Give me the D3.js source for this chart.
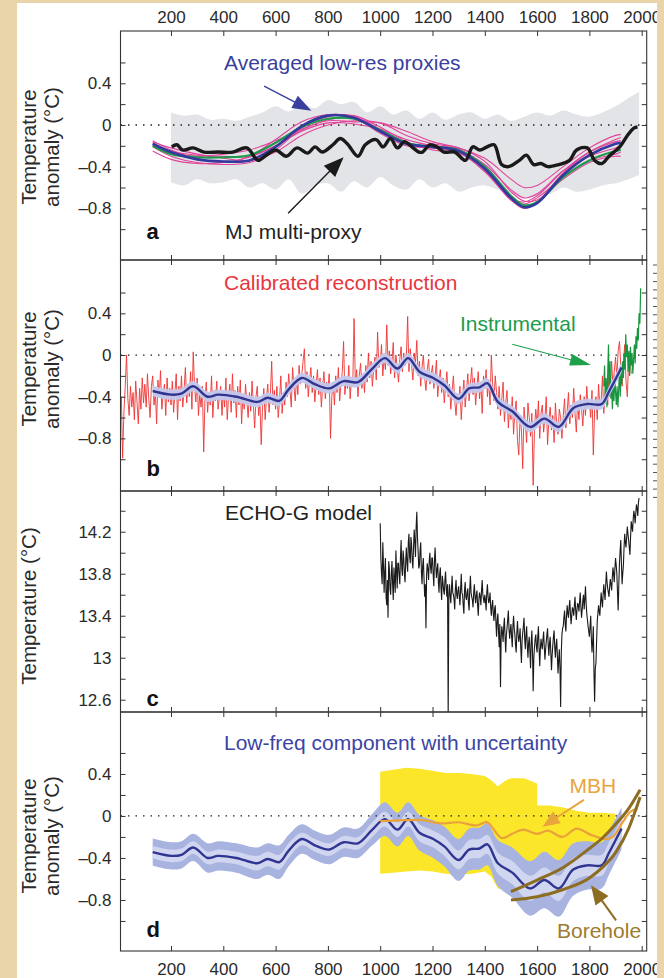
<!DOCTYPE html>
<html>
<head>
<meta charset="utf-8">
<script src="https://d3js.org/d3.v7.min.js"></script>
<style>
  body { margin: 0; background: #e9d5a9; }
  svg { display: block; font-family: "Liberation Sans", Arial, Helvetica, sans-serif; }
</style>
</head>
<body>
<script>
var width = 664,
    height = 978;

// ---- data ----
var xTicks = [200, 400, 600, 800, 1000, 1200, 1400, 1600, 1800, 2000];
var anomTicks = [-1, -0.8, -0.6, -0.4, -0.2, 0, 0.2, 0.4, 0.6];
var anomLabels = [0.4, 0, -0.4, -0.8];
var tempTicks = [12.6, 12.8, 13, 13.2, 13.4, 13.6, 13.8, 14, 14.2, 14.4];
var tempLabels = [14.2, 13.8, 13.4, 13, 12.6];

// panel a: low-res proxies (smoothed)
var proxyYears = [130, 200, 300, 400, 500, 600, 700, 800, 900, 1000, 1100, 1200, 1300, 1400, 1500, 1550, 1600, 1700, 1800, 1900, 1920];
var proxyBlue  = [-0.18, -0.26, -0.33, -0.35, -0.34, -0.21, -0.01, 0.09, 0.07, -0.06, -0.18, -0.21, -0.25, -0.42, -0.70, -0.79, -0.75, -0.48, -0.29, -0.18, -0.17];
var proxyGreen = [-0.20, -0.28, -0.31, -0.31, -0.29, -0.17, -0.02, 0.06, 0.06, -0.05, -0.17, -0.21, -0.24, -0.40, -0.68, -0.77, -0.74, -0.50, -0.34, -0.25, -0.24];
var proxyPink = [
  [-0.15, -0.24, -0.32, -0.36, -0.30, -0.14, 0.03, 0.10, 0.08, -0.04, -0.17, -0.22, -0.26, -0.45, -0.72, -0.80, -0.74, -0.46, -0.26, -0.14, -0.12],
  [-0.25, -0.33, -0.37, -0.36, -0.31, -0.20, -0.05, 0.05, 0.06, -0.08, -0.20, -0.22, -0.24, -0.38, -0.62, -0.70, -0.66, -0.44, -0.30, -0.22, -0.20],
  [-0.19, -0.27, -0.30, -0.28, -0.24, -0.15, -0.04, 0.04, 0.03, 0.02, -0.06, -0.16, -0.22, -0.32, -0.52, -0.60, -0.58, -0.40, -0.22, -0.10, -0.09],
  [-0.17, -0.25, -0.29, -0.30, -0.30, -0.20, -0.06, 0.02, 0.01, -0.04, -0.14, -0.20, -0.23, -0.42, -0.72, -0.76, -0.70, -0.50, -0.34, -0.28, -0.26],
  [-0.21, -0.30, -0.36, -0.38, -0.36, -0.24, -0.03, 0.08, 0.09, -0.02, -0.16, -0.24, -0.27, -0.44, -0.70, -0.74, -0.68, -0.44, -0.26, -0.16, -0.15],
  [-0.16, -0.22, -0.28, -0.32, -0.34, -0.26, -0.10, 0.00, 0.04, 0.02, -0.10, -0.18, -0.22, -0.35, -0.64, -0.73, -0.72, -0.52, -0.36, -0.30, -0.30]
];
// panel a: grey envelope
var envYears = [200, 250, 300, 350, 400, 450, 500, 550, 600, 650, 700, 750, 800, 850, 900, 950, 1000, 1050, 1100, 1150,
                1200, 1250, 1300, 1350, 1400, 1450, 1500, 1550, 1600, 1650, 1700, 1750, 1800, 1850, 1900, 1950, 1990];
var envUpper = [0.12, 0.09, 0.10, 0.05, 0.06, 0.04, 0.08, 0.12, 0.18, 0.13, 0.20, 0.16, 0.24, 0.20, 0.22, 0.12, 0.18, 0.10, 0.14, 0.06,
                0.12, 0.05, 0.10, 0.12, 0.06, 0.10, 0.04, 0.08, 0.12, 0.09, 0.14, 0.10, 0.08, 0.12, 0.18, 0.26, 0.32];
var envLower = [-0.55, -0.58, -0.52, -0.56, -0.55, -0.52, -0.60, -0.56, -0.62, -0.52, -0.66, -0.58, -0.56, -0.64, -0.54, -0.60, -0.50, -0.58, -0.62, -0.52,
                -0.60, -0.56, -0.64, -0.60, -0.58, -0.62, -0.66, -0.70, -0.68, -0.66, -0.60, -0.64, -0.62, -0.58, -0.56, -0.52, -0.48];
// panel a: MJ multi-proxy
var mjYears = [203, 223, 244, 285, 326, 381, 436, 490, 532, 559, 600, 641, 682, 723, 751, 778, 819, 847, 874, 915,
               943, 984, 1011, 1039, 1066, 1093, 1121, 1148, 1162, 1189, 1217, 1244, 1285, 1326, 1354, 1381, 1409, 1436, 1464, 1491,
               1532, 1559, 1587, 1614, 1641, 1683, 1724, 1751, 1792, 1820, 1847, 1875, 1916, 1943, 1970, 1984];
var mjVals = [-0.21, -0.19, -0.24, -0.22, -0.26, -0.26, -0.26, -0.22, -0.34, -0.30, -0.24, -0.30, -0.22, -0.27, -0.21, -0.26, -0.19, -0.13, -0.18, -0.30,
              -0.19, -0.14, -0.21, -0.13, -0.22, -0.16, -0.21, -0.26, -0.26, -0.19, -0.21, -0.26, -0.26, -0.34, -0.21, -0.24, -0.21, -0.19, -0.38, -0.40,
              -0.34, -0.29, -0.38, -0.37, -0.40, -0.38, -0.34, -0.24, -0.22, -0.34, -0.37, -0.30, -0.21, -0.11, -0.03, -0.02];

// panel b: calibrated reconstruction, every 5 years from year 0
var calibStart = 0, calibStep = 5;
var calibVals = [
  -0.45, -0.62, -0.40, -0.99, -0.55, -0.30, 0.00, -0.42, -0.58, -0.30, -0.50, -0.36, -0.62, -0.25, -0.45, -0.66, -0.32, -0.52, -0.22, -0.46,
  -0.28, -0.50, -0.18, -0.42, -0.60, -0.30, -0.20, -0.48, -0.35, -0.66, -0.24, -0.40, -0.15, -0.52, -0.38, -0.28, -0.58, -0.22, -0.45, -0.32,
  -0.48, -0.25, -0.55, -0.36, -0.18, -0.62, -0.30, -0.44, -0.20, -0.50, -0.34, -0.12, -0.46, -0.28, -0.40, -0.16, -0.52, 0.03, -0.30, -0.45,
  -0.22, -0.58, -0.38, -0.50, -0.30, -0.93, -0.42, -0.26, -0.55, -0.36, -0.48, -0.20, -0.60, -0.34, -0.44, -0.25, -0.52, -0.40, -0.30, -0.58,
  -0.35, -0.50, -0.22, -0.62, -0.40, -0.28, -0.55, -0.18, -0.46, -0.34, -0.60, -0.30, -0.48, -0.24, -0.66, -0.38, -0.52, -0.28, -0.44, -0.60,
  -0.36, -0.54, -0.25, -0.48, -0.70, -0.40, -0.30, -0.58, -0.45, -0.86, -0.50, -0.32, -0.62, -0.42, -0.28, -0.55, -0.38, -0.06, -0.48, -0.34,
  -0.52, -0.30, -0.60, -0.44, -0.20, -0.56, -0.36, -0.48, -0.26, -0.40, -0.18, -0.34, -0.50, -0.12, -0.30, -0.44, -0.22, -0.38, -0.10, -0.28,
  -0.20, -0.06, 0.06, -0.32, -0.16, -0.40, -0.24, -0.12, -0.36, -0.20, -0.45, -0.28, -0.14, -0.38, -0.22, -0.50, -0.30, -0.16, -0.42, -0.26,
  -0.34, -0.18, -0.80, -0.40, -0.26, -0.48, -0.20, -0.36, -0.12, -0.44, -0.28, -0.16, 0.13, -0.38, -0.22, -0.32, -0.10, -0.42, -0.24, -0.30,
  0.35, -0.28, -0.14, -0.40, -0.20, -0.08, -0.32, -0.18, -0.36, -0.10, -0.26, 0.02, -0.22, -0.06, -0.30, -0.14, -0.02, -0.24, 0.22, -0.12,
  -0.08, 0.10, -0.20, -0.02, -0.14, 0.29, -0.10, 0.04, -0.18, -0.06, 0.12, -0.22, 0.00, -0.12, -0.26, -0.04, 0.08, -0.16, 0.02, -0.10,
  -0.02, 0.37, -0.16, 0.06, -0.10, -0.24, 0.02, -0.08, 0.14, -0.20, -0.06, -0.30, -0.12, 0.00, -0.22, -0.34, -0.14, -0.04, -0.28, -0.18,
  -0.10, -0.32, -0.20, -0.05, -0.40, -0.24, -0.14, -0.36, -0.22, -0.46, -0.30, -0.16, -0.40, -0.28, -0.52, -0.34, -0.20, -0.44, -0.58, -0.38,
  -0.46, -0.30, -0.62, -0.40, -0.24, -0.50, -0.34, -0.18, -0.44, -0.28, -0.12, -0.38, -0.22, -0.48, -0.30, -0.16, -0.42, -0.26, -0.56, -0.20,
  -0.32, -0.14, -0.40, -0.24, -0.48, 0.00, -0.28, -0.44, -0.20, -0.36, -0.52, -0.30, -0.58, -0.42, -0.26, -0.64, -0.46, -0.34, -0.70, -0.50,
  -0.62, -0.40, -0.76, -0.54, -0.44, -0.82, -0.96, -0.58, -0.72, -1.09, -0.50, -0.66, -0.84, -0.46, -0.60, -0.78, -0.56, -1.25, -0.70, -0.52,
  -0.68, -0.44, -0.80, -0.56, -0.48, -0.74, -0.60, -0.40, -0.86, -0.62, -0.50, -0.72, -0.58, -0.84, -0.46, -0.66, -0.76, -0.52, -0.60, -0.80,
  -0.58, -0.42, -0.70, -0.54, -0.36, -0.66, -0.48, -0.60, -0.32, -0.56, -0.74, -0.44, -0.62, -0.38, -0.52, -0.68, -0.40, -0.58, -0.30, -0.50,
  -0.46, -0.60, -0.34, -0.96, -0.52, -0.40, -0.62, -0.28, -0.50, -0.44, -0.20, -0.56, -0.36, -0.26, -0.48, -0.14, -0.38, -0.06, -0.30, -0.16,
  -0.02, -0.22, 0.04, 0.13, -0.10, -0.30, -0.08, 0.10, -0.25, -0.40, -0.05, 0.02, -0.18
];
var calibErr = 0.05;
// panel b: instrumental, every 3 years from 1855
var instStart = 1855, instStep = 3;
var instVals = [
  -0.30, -0.10, -0.45, -0.22, -0.50, -0.18, 0.10, -0.40, -0.06, -0.42,
  -0.30, -0.52, -0.28, -0.44, -0.20, -0.36, -0.48, -0.30, -0.50, -0.34,
  -0.12, -0.40, -0.16, -0.28, -0.06, -0.22, 0.02, -0.14, 0.20, -0.02,
  0.10, -0.16, 0.04, -0.20, 0.08, -0.10, 0.02, -0.18, -0.04, 0.10,
  -0.08, 0.18, 0.06, 0.26, 0.14, 0.40, 0.30, 0.64
];
// panels b and d: low-frequency component
var lowYears = [130, 200, 240, 285, 340, 380, 450, 530, 570, 614, 650, 700, 750, 805, 860, 915, 970, 1018, 1066, 1107,
                1150, 1203, 1245, 1300, 1340, 1380, 1410, 1450, 1505, 1573, 1628, 1683, 1738, 1792, 1847, 1875, 1923];
var lowVals = [-0.345, -0.38, -0.37, -0.30, -0.40, -0.38, -0.40, -0.45, -0.41, -0.44, -0.33, -0.22, -0.28, -0.32, -0.25, -0.26, -0.13, -0.03, -0.13, -0.03,
               -0.16, -0.22, -0.29, -0.42, -0.32, -0.31, -0.27, -0.45, -0.54, -0.69, -0.61, -0.69, -0.51, -0.47, -0.47, -0.35, -0.12];
var lowOuter = [0.13, 0.13, 0.13, 0.13, 0.14, 0.14, 0.14, 0.15, 0.15, 0.16, 0.15, 0.14, 0.14, 0.14, 0.14, 0.14, 0.15, 0.16, 0.16, 0.16,
                0.17, 0.18, 0.19, 0.20, 0.20, 0.20, 0.20, 0.22, 0.24, 0.26, 0.27, 0.27, 0.25, 0.23, 0.22, 0.21, 0.20];
var lowInner = [0.06, 0.06, 0.06, 0.06, 0.06, 0.06, 0.06, 0.07, 0.07, 0.07, 0.07, 0.06, 0.06, 0.06, 0.06, 0.06, 0.07, 0.07, 0.07, 0.07,
                0.08, 0.08, 0.09, 0.09, 0.09, 0.09, 0.09, 0.10, 0.11, 0.12, 0.12, 0.12, 0.11, 0.10, 0.10, 0.10, 0.09];

// panel c: ECHO-G model, every 5 years from 1000 and the in-between years from 1002.5
var echoStart = 1000, echoMidStart = 1002.5, echoStep = 5;
var echoVals = [
  14.28, 13.80, 14.10, 13.62, 13.95, 13.50, 13.38, 13.85, 13.60, 13.92, 13.55, 13.75, 14.02, 13.66, 13.90, 13.70, 14.12, 13.78, 13.95, 13.72,
  14.05, 13.82, 14.18, 13.90, 14.08, 13.85, 14.22, 13.96, 14.39, 14.02, 13.88, 14.10, 13.70, 13.95, 13.58, 13.28, 13.90, 13.74, 14.00, 13.80,
  13.95, 13.68, 14.05, 13.76, 13.90, 13.62, 13.86, 13.55, 13.72, 13.60, 13.82, 13.58, 12.45, 13.70, 13.52, 13.78, 13.60, 13.46, 13.74, 13.56,
  13.68, 13.50, 13.80, 13.60, 13.42, 13.72, 13.55, 13.66, 13.45, 13.78, 13.58, 13.48, 13.70, 13.52, 13.64, 13.40, 13.62, 13.50, 13.74, 13.56,
  13.60, 13.45, 13.70, 13.52, 13.62, 13.40, 13.55, 13.35, 13.50, 13.20, 13.42, 13.10, 12.72, 13.30, 13.15, 13.38, 13.05, 13.28, 13.45, 13.18,
  13.32, 13.10, 13.40, 13.22, 13.05, 13.35, 13.15, 13.28, 12.95, 13.24, 13.38, 13.08, 13.30, 13.00, 13.20, 12.90, 13.26, 12.68, 13.10, 13.22,
  13.05, 13.30, 12.92, 13.18, 13.08, 13.25, 12.98, 13.15, 13.28, 13.02, 13.20, 12.88, 13.12, 13.26, 13.00, 13.18, 12.85, 13.08, 12.53, 13.22,
  13.30, 13.45, 13.25, 13.50, 13.38, 13.55, 13.32, 13.48, 13.40, 13.58, 13.36, 13.52, 13.44, 13.62, 13.38, 13.55, 13.46, 13.68, 13.42, 13.30,
  13.20, 13.40, 13.05, 13.30, 12.58, 12.95, 13.35, 13.50, 13.40, 13.62, 13.48, 13.70, 13.55, 13.82, 13.66, 13.58, 13.75, 13.64, 13.86, 13.72,
  13.95, 13.80, 13.45, 13.90, 14.12, 13.70, 13.88, 14.18, 14.05, 14.25, 14.12, 13.98, 14.30, 14.20, 14.40, 14.28, 14.46, 14.35, 14.52
];
var echoMidVals = [
  13.95, 13.70, 13.88, 13.82, 13.58, 13.74, 13.92, 13.66, 13.80, 13.70, 13.86, 13.62, 13.84, 13.90, 13.78, 13.96, 13.85, 14.02, 13.80, 13.92,
  13.90, 14.10, 13.96, 14.15, 13.92, 14.05, 14.10, 14.25, 14.15, 13.85, 14.02, 13.82, 13.88, 13.76, 13.70, 13.80, 13.84, 13.92, 13.86, 13.95,
  13.80, 13.92, 13.88, 13.84, 13.72, 13.80, 13.66, 13.78, 13.64, 13.74, 13.66, 13.70, 13.60, 13.58, 13.66, 13.62, 13.55, 13.66, 13.60, 13.64,
  13.58, 13.66, 13.62, 13.50, 13.64, 13.58, 13.62, 13.52, 13.66, 13.62, 13.55, 13.62, 13.58, 13.60, 13.50, 13.56, 13.58, 13.64, 13.60, 13.52,
  13.55, 13.62, 13.58, 13.55, 13.48, 13.50, 13.42, 13.46, 13.34, 13.36, 13.25, 13.32, 13.18, 13.24, 13.30, 13.20, 13.22, 13.36, 13.28, 13.26,
  13.20, 13.30, 13.28, 13.12, 13.24, 13.22, 13.20, 13.10, 13.16, 13.30, 13.18, 13.22, 13.12, 13.14, 13.06, 13.15, 13.05, 13.00, 13.18, 13.10,
  13.20, 13.10, 13.08, 13.12, 13.18, 13.10, 13.08, 13.22, 13.12, 13.14, 13.05, 13.02, 13.20, 13.10, 13.12, 13.02, 12.98, 12.90, 13.05, 13.28,
  13.38, 13.32, 13.40, 13.42, 13.48, 13.42, 13.40, 13.46, 13.50, 13.45, 13.46, 13.50, 13.54, 13.48, 13.46, 13.60, 13.56, 13.52, 13.36, 13.25,
  13.30, 13.18, 13.16, 12.85, 12.90, 13.15, 13.42, 13.44, 13.52, 13.54, 13.60, 13.62, 13.70, 13.72, 13.62, 13.68, 13.70, 13.76, 13.80, 13.85,
  13.88, 13.62, 13.70, 14.02, 13.90, 13.80, 14.05, 14.10, 14.15, 14.18, 14.05, 14.15, 14.25, 14.32, 14.35, 14.38, 14.42, 14.48
];

// panel d: MBH with its uncertainty, and boreholes
var mbhYears = [1000, 1093, 1162, 1230, 1299, 1368, 1409, 1464, 1505, 1546, 1601, 1642, 1697, 1751, 1806, 1861, 1889, 1930, 1957, 1984];
var mbhVals = [-0.05, -0.04, -0.04, -0.07, -0.06, -0.09, -0.06, -0.21, -0.17, -0.13, -0.17, -0.14, -0.20, -0.12, -0.18, -0.22, -0.20, -0.05, 0.04, 0.07];
var mbhErrYears = [1000, 1050, 1100, 1150, 1200, 1250, 1300, 1350, 1400, 1425, 1450, 1475, 1500, 1550, 1600, 1600, 1650, 1700, 1750, 1800, 1850, 1898];
var mbhErrUpper = [0.42, 0.44, 0.46, 0.45, 0.43, 0.41, 0.41, 0.40, 0.38, 0.34, 0.28, 0.33, 0.36, 0.36, 0.31, 0.10, 0.10, 0.08, 0.05, 0.03, 0.03, 0.02];
var mbhErrLower = [-0.55, -0.54, -0.53, -0.52, -0.53, -0.55, -0.56, -0.55, -0.53, -0.58, -0.69, -0.70, -0.71, -0.66, -0.55, -0.55, -0.46, -0.45, -0.42, -0.41, -0.43, -0.44];
var boreYears = [1500, 1600, 1700, 1800, 1850, 1900, 1950, 1994];
var boreUpper = [-0.72, -0.61, -0.49, -0.31, -0.21, -0.08, 0.07, 0.25];
var boreLower = [-0.80, -0.77, -0.70, -0.59, -0.49, -0.35, -0.12, 0.18];

// ---- layout ----
var L = 120.5, R = 646.7;
var x = d3.scaleLinear().domain([0, 2000]).range([118.7, 641.7]);

var panels = [
  { id: 'a', top: 31,  bottom: 260, lo: -1.296, hi: 0.902, ticks: anomTicks, labels: anomLabels, titleY: 147 },
  { id: 'b', top: 260, bottom: 491, lo: -1.305, hi: 0.912, ticks: anomTicks, labels: anomLabels, titleY: 369 },
  { id: 'c', top: 491, bottom: 712, lo: 12.483, hi: 14.588, ticks: tempTicks, labels: tempLabels, titleY: 606 },
  { id: 'd', top: 712, bottom: 951, lo: -1.286, hi: 0.99,  ticks: anomTicks, labels: anomLabels, titleY: 836 }
];
panels.forEach(function(p) {
  p.y = d3.scaleLinear().domain([p.lo, p.hi]).range([p.bottom, p.top]);
});

var svg = d3.select("body").append("svg")
    .attr("width", width)
    .attr("height", height);

var defs = svg.append("defs");
defs.append("clipPath").attr("id", "page")
  .append("rect").attr("x", 17).attr("y", 3).attr("width", 640).attr("height", 975);
panels.forEach(function(p) {
  defs.append("clipPath").attr("id", "clip-" + p.id)
    .append("rect").attr("x", L).attr("y", p.top).attr("width", R - L).attr("height", p.bottom - p.top);
});

var page = svg.append("g").attr("clip-path", "url(#page)");
page.append("rect").attr("x", 17).attr("y", 3).attr("width", 640).attr("height", 975).attr("fill", "#fff");

function zip(xs, ys) { return xs.map(function(d, i) { return [d, ys[i]]; }); }
function series(start, step, vals) { return vals.map(function(v, i) { return [start + i * step, v]; }); }

function lineFor(p, curve) {
  return d3.line().x(function(d) { return x(d[0]); }).y(function(d) { return p.y(d[1]); }).curve(curve || d3.curveLinear);
}
function areaFor(p, curve) {
  return d3.area().x(function(d) { return x(d[0]); })
    .y0(function(d) { return p.y(d[1]); }).y1(function(d) { return p.y(d[2]); })
    .curve(curve || d3.curveLinear);
}

function yFmt(labels) {
  return function(d) {
    var v = +d.toFixed(1);
    return labels.indexOf(v) >= 0 ? String(v).replace("-", "\u2013") : "";
  };
}

function zeroLine(g, p) {
  g.append("line")
    .attr("x1", L).attr("x2", R)
    .attr("y1", p.y(0)).attr("y2", p.y(0))
    .attr("stroke", "#222").attr("stroke-width", 1.3)
    .attr("stroke-dasharray", "1.5,6");
}

function arrow(g, p, from, to, color, headLen, headW, sw) {
  var x0 = x(from[0]), y0 = p.y(from[1]), x1 = x(to[0]), y1 = p.y(to[1]);
  var dx = x1 - x0, dy = y1 - y0, len = Math.sqrt(dx * dx + dy * dy);
  var ux = dx / len, uy = dy / len;
  var bx = x1 - ux * headLen, by = y1 - uy * headLen;
  g.append("line").attr("x1", x0).attr("y1", y0).attr("x2", bx + ux * 2).attr("y2", by + uy * 2)
    .attr("stroke", color).attr("stroke-width", sw);
  g.append("path")
    .attr("d", "M" + x1 + "," + y1 + "L" + (bx - uy * headW) + "," + (by + ux * headW) +
               "L" + (bx + uy * headW) + "," + (by - ux * headW) + "Z")
    .attr("fill", color);
}

function label(g, txt, tx, ty, color, size, weight) {
  g.append("text").attr("x", tx).attr("y", ty)
    .attr("fill", color).attr("font-size", size)
    .attr("font-weight", weight || "normal")
    .text(txt);
}

function drawAxes(p) {
  var g = page.append("g");
  g.append("g").attr("transform", "translate(" + L + ",0)")
    .call(d3.axisLeft(p.y).tickValues(p.ticks).tickSize(-5).tickPadding(9).tickFormat(yFmt(p.labels)));
  g.append("g").attr("transform", "translate(" + R + ",0)")
    .call(d3.axisRight(p.y).tickValues(p.ticks).tickSize(-5).tickFormat(""));
  g.append("g").attr("transform", "translate(0," + p.top + ")")
    .call(d3.axisTop(x).tickValues(xTicks).tickSize(-5).tickPadding(8).tickFormat(p.id === 'a' ? d3.format("d") : ""));
  g.append("g").attr("transform", "translate(0," + p.bottom + ")")
    .call(d3.axisBottom(x).tickValues(xTicks).tickSize(-5).tickPadding(12).tickFormat(p.id === 'd' ? d3.format("d") : ""));
  g.selectAll(".domain").remove();
  g.selectAll("g").attr("font-family", null).attr("font-size", 17);
  g.selectAll(".tick line").attr("stroke", "#333");
  g.selectAll(".tick text").attr("fill", "#2a2a2a");
  g.append("rect").attr("x", L).attr("y", p.top).attr("width", R - L).attr("height", p.bottom - p.top)
    .attr("fill", "none").attr("stroke", "#333").attr("stroke-width", 1.1);

  // y title
  var t = g.append("g").attr("font-size", 20.5).attr("fill", "#2a2a2a").attr("text-anchor", "middle");
  if (p.id === 'c') {
    t.append("text").attr("transform", "translate(36," + p.titleY + ") rotate(-90)").text("Temperature (\u00b0C)");
  } else {
    t.append("text").attr("transform", "translate(36," + p.titleY + ") rotate(-90)").text("Temperature");
    t.append("text").attr("transform", "translate(59," + p.titleY + ") rotate(-90)").text("anomaly (\u00b0C)");
  }
  // panel letter
  label(g, p.id, 146.6, p.id === 'a' ? 238.5 : p.id === 'b' ? 475.7 : p.id === 'c' ? 705.7 : 936.7, "#111", 22, "bold");
}

var pa = panels[0], pb = panels[1], pc = panels[2], pd = panels[3];
var smooth = d3.curveCatmullRom.alpha(0.5);

// ---- panel a ----
var ga = page.append("g").attr("clip-path", "url(#clip-a)");
ga.append("path")
  .datum(envYears.map(function(yr, i) { return [yr, envLower[i], envUpper[i]]; }))
  .attr("d", areaFor(pa, smooth))
  .attr("fill", "#e3e4e7");
zeroLine(ga, pa);
proxyPink.forEach(function(vals) {
  ga.append("path").datum(zip(proxyYears, vals))
    .attr("d", lineFor(pa, smooth))
    .attr("fill", "none").attr("stroke", "#e2439a").attr("stroke-width", 1.1);
});
ga.append("path").datum(zip(proxyYears, proxyGreen))
  .attr("d", lineFor(pa, smooth))
  .attr("fill", "none").attr("stroke", "#1f9a4c").attr("stroke-width", 2.2);
ga.append("path").datum(zip(proxyYears, proxyBlue))
  .attr("d", lineFor(pa, smooth))
  .attr("fill", "none").attr("stroke", "#333a9e").attr("stroke-width", 2.6);
ga.append("path").datum(zip(mjYears, mjVals))
  .attr("d", lineFor(pa, smooth))
  .attr("fill", "none").attr("stroke", "#1a1a1a").attr("stroke-width", 3.4)
  .attr("stroke-linejoin", "round");

var la = page.append("g");
label(la, "Averaged low-res proxies", 224, 70, "#3a3f9e", 21);
label(la, "MJ multi-proxy", 225, 238.5, "#222", 21);
arrow(la, pa, [556, 0.374], [737, 0.137], "#3a3f9e", 19, 7, 1.4);
arrow(la, pa, [648, -0.847], [860, -0.31], "#1a1a1a", 20, 8, 1.4);

// ---- panel b ----
var gb = page.append("g").attr("clip-path", "url(#clip-b)");
zeroLine(gb, pb);
gb.append("path").datum(series(calibStart, calibStep, calibVals))
  .attr("d", lineFor(pb))
  .attr("fill", "none").attr("stroke", "#ee3434").attr("stroke-width", 1)
  .attr("stroke-opacity", 0.9);
gb.append("path").datum(series(instStart, instStep, instVals))
  .attr("d", lineFor(pb))
  .attr("fill", "none").attr("stroke", "#17963f").attr("stroke-width", 1.2);
gb.append("path")
  .datum(lowYears.map(function(yr, i) { return [yr, lowVals[i] - calibErr, lowVals[i] + calibErr]; }))
  .attr("d", areaFor(pb, smooth))
  .attr("fill", "#c3c8ec").attr("fill-opacity", 0.95);
gb.append("path").datum(zip(lowYears, lowVals))
  .attr("d", lineFor(pb, smooth))
  .attr("fill", "none").attr("stroke", "#2f3591").attr("stroke-width", 2.4);

var lb = page.append("g");
label(lb, "Calibrated reconstruction", 224, 290, "#e8363c", 21);
label(lb, "Instrumental", 460, 331, "#1d9c4c", 21);
arrow(lb, pb, [1505, 0.103], [1806, -0.096], "#1fa04a", 21, 6, 1.1);

// ---- panel c ----
var echo = series(echoStart, echoStep, echoVals)
  .concat(series(echoMidStart, echoStep, echoMidVals))
  .sort(function(a, b) { return a[0] - b[0]; });
var gc = page.append("g").attr("clip-path", "url(#clip-c)");
gc.append("path").datum(echo)
  .attr("d", lineFor(pc))
  .attr("fill", "none").attr("stroke", "#1a1a1a").attr("stroke-width", 1.1);
label(page, "ECHO-G model", 225, 520, "#222", 21);

// ---- panel d ----
var gd = page.append("g").attr("clip-path", "url(#clip-d)");
gd.append("path")
  .datum(mbhErrYears.map(function(yr, i) { return [yr, mbhErrLower[i], mbhErrUpper[i]]; }))
  .attr("d", areaFor(pd))
  .attr("fill", "#fbe62a");
gd.append("path")
  .datum(lowYears.map(function(yr, i) { return [yr, lowVals[i] - lowOuter[i], lowVals[i] + lowOuter[i]]; }))
  .attr("d", areaFor(pd, smooth))
  .attr("fill", "#a8b3e0");
gd.append("path")
  .datum(lowYears.map(function(yr, i) { return [yr, lowVals[i] - lowInner[i], lowVals[i] + lowInner[i]]; }))
  .attr("d", areaFor(pd, smooth))
  .attr("fill", "#d0d5f0");
zeroLine(gd, pd);
gd.append("path").datum(zip(lowYears, lowVals))
  .attr("d", lineFor(pd, smooth))
  .attr("fill", "none").attr("stroke", "#2f3591").attr("stroke-width", 2.4);
gd.append("path").datum(zip(mbhYears, mbhVals))
  .attr("d", lineFor(pd, smooth))
  .attr("fill", "none").attr("stroke", "#e9a23a").attr("stroke-width", 2.2);
[boreUpper, boreLower].forEach(function(vals) {
  gd.append("path").datum(zip(boreYears, vals))
    .attr("d", lineFor(pd, d3.curveMonotoneX))
    .attr("fill", "none").attr("stroke", "#8d6d22").attr("stroke-width", 3);
});

var ld = page.append("g");
label(ld, "Low-freq component with uncertainty", 224, 750, "#3c44a3", 21);
label(ld, "MBH", 569.5, 793, "#e9a43c", 21);
label(ld, "Borehole", 557, 938, "#9e7b30", 21);
arrow(ld, pd, [1779, 0.153], [1621, -0.102], "#e9a43c", 17, 7, 2);
arrow(ld, pd, [1902, -0.995], [1806, -0.66], "#8d6d22", 19, 8, 2);

// frames, ticks and titles on top
panels.forEach(drawAxes);

// ruler marks at the right edge of panel b
page.append("g").selectAll("line")
  .data(d3.range(265, 498, 8.3))
  .enter().append("line")
  .attr("x1", 653).attr("x2", 657)
  .attr("y1", function(d) { return d; }).attr("y2", function(d) { return d; })
  .attr("stroke", "#555").attr("stroke-width", 1);
</script>
</body>
</html>
